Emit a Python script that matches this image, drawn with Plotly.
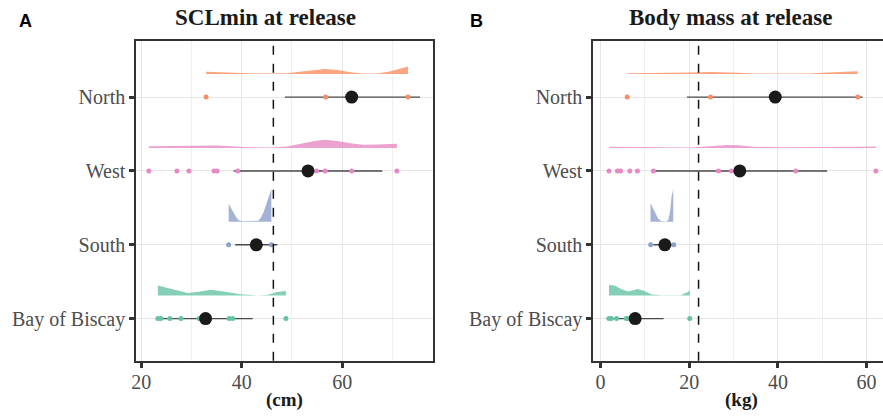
import plotly.graph_objects as go

# ---- data -------------------------------------------------------------
groups = ["Bay of Biscay", "South", "West", "North"]
colors = {"North": "#FC8D62", "West": "#E78AC3", "South": "#8DA0CB", "Bay of Biscay": "#66C2A5"}

# SCLmin at release (cm)
scl_points = {
    "North": [32.9, 56.7, 73.1],
    "West": [21.5, 27.1, 29.5, 34.5, 35.1, 39.2, 54.9, 56.6, 61.9, 70.9],
    "South": [37.4, 45.9],
    "Bay of Biscay": [23.3, 23.9, 25.7, 27.9, 31.5, 31.9, 37.5, 38.2, 48.8],
}
scl_centre = {"North": 61.9, "West": 53.2, "South": 42.9, "Bay of Biscay": 32.8}
scl_interval = {"North": (48.6, 75.5), "West": (38.4, 68.0), "South": (38.7, 47.1), "Bay of Biscay": (23.3, 42.2)}
scl_slab_x = {
    "North": [32.9, 36, 40, 44, 47, 49, 52, 54.5, 56.5, 59, 62, 64, 67, 69.5, 71.5, 73.1],
    "West": [21.5, 26, 30, 33, 35, 38, 41, 45.7, 49, 52, 54.5, 56.6, 59, 62, 64.2, 67, 70.9],
    "South": [37.4, 37.9, 38.4, 38.9, 39.4, 40.2, 42.5, 43.3, 43.8, 44.3, 44.8, 45.3, 45.6, 45.9],
    "Bay of Biscay": [23.3, 26.5, 29.2, 31.1, 33.8, 36.4, 39.7, 43.0, 45.0, 47.0, 48.8],
}
scl_slab_h = {
    "North": [2.3, 1.6, 1.0, 0.6, 0.5, 0.8, 2.5, 4.2, 5.0, 4.0, 1.5, 0.6, 0.6, 2.5, 5.0, 7.7],
    "West": [1.7, 1.9, 2.0, 2.3, 2.4, 1.6, 0.8, 0.5, 1.5, 4.5, 7.0, 8.3, 7.0, 4.5, 3.3, 3.5, 4.3],
    "South": [18, 14, 9, 4.5, 1.5, 0.4, 0.3, 1, 4, 9, 16, 25, 30, 33],
    "Bay of Biscay": [10.0, 6.3, 2.7, 3.7, 5.8, 4.0, 1.3, 0.2, 0.7, 3.7, 4.7],
}
scl_threshold = 46.3

# Body mass at release (kg)
mass_points = {
    "North": [6.0, 24.8, 58.0],
    "West": [1.9, 3.8, 4.5, 6.6, 8.3, 11.9, 26.6, 29.5, 44.0, 62.1],
    "South": [11.3, 16.5],
    "Bay of Biscay": [1.9, 2.4, 3.6, 5.8, 6.2, 20.1],
}
mass_centre = {"North": 39.4, "West": 31.4, "South": 14.5, "Bay of Biscay": 7.8}
mass_interval = {"North": (19.5, 59.1), "West": (11.9, 51.1), "South": (11.9, 17.0), "Bay of Biscay": (1.3, 14.2)}
mass_slab_x = {
    "North": [6, 12, 17, 20, 24.8, 28, 31, 34.5, 40, 47, 50, 53, 56, 58],
    "West": [1.9, 6, 10.7, 16, 20.4, 23, 26, 28.6, 31, 34.5, 40.5, 48, 54, 58, 62.1],
    "South": [11.26, 12.15, 13.0, 13.65, 14.8, 15.3, 15.7, 16.0, 16.4],
    "Bay of Biscay": [1.9, 3.2, 4.7, 6.2, 8.4, 9.9, 11.4, 13.6, 18.1, 19.6, 20.1],
}
mass_slab_h = {
    "North": [0.8, 0.9, 1.2, 1.7, 2.1, 1.9, 1.4, 0.6, 0.3, 0.5, 1.3, 2.0, 2.5, 2.8],
    "West": [1.3, 1.0, 0.7, 0.5, 0.5, 1.2, 2.4, 3.0, 2.6, 1.3, 0.6, 0.6, 0.9, 1.3, 1.4],
    "South": [18.7, 11, 3, 0.7, 0.3, 2, 11, 25, 33],
    "Bay of Biscay": [10.7, 10, 6.3, 4, 6.7, 4.7, 1.3, 0.3, 0.3, 3.3, 5.3],
}
mass_threshold = 22.1

x_ticks_scl = [20, 40, 60]
x_ticks_mass = [0, 20, 40, 60]

# ---- figure -----------------------------------------------------------
W, H = 883, 416
SERIF = "Liberation Serif"
row_px = 73.8            # pixels per category step
slab_offset = 23 / row_px
slab_scale = 1 / row_px


def rgba(hex_color, a):
    h = hex_color.lstrip("#")
    r, g, b = int(h[0:2], 16), int(h[2:4], 16), int(h[4:6], 16)
    return f"rgba({r},{g},{b},{a})"


fig = go.Figure()


def add_panel(xa, ya, points, centre, interval, slab_x, slab_h):
    for i, g in enumerate(groups):
        col = colors[g]
        base = i + slab_offset
        xs = slab_x[g]
        ys = [base + h * slab_scale for h in slab_h[g]]
        fig.add_trace(go.Scatter(
            x=xs + xs[::-1], y=ys + [base] * len(xs),
            fill="toself", fillcolor=rgba(col, 0.8), line=dict(width=0),
            mode="lines", xaxis=xa, yaxis=ya, hoverinfo="skip", showlegend=False))
        lo, hi = interval[g]
        fig.add_trace(go.Scatter(
            x=[lo, hi], y=[i, i], mode="lines",
            line=dict(color="#4a4a4a", width=1.4),
            xaxis=xa, yaxis=ya, showlegend=False))
        fig.add_trace(go.Scatter(
            x=points[g], y=[i] * len(points[g]), mode="markers",
            marker=dict(color=col, size=5, line=dict(width=0)),
            xaxis=xa, yaxis=ya, showlegend=False))
        fig.add_trace(go.Scatter(
            x=[centre[g]], y=[i], mode="markers",
            marker=dict(color="#1a1a1a", size=13, line=dict(width=0)),
            xaxis=xa, yaxis=ya, showlegend=False))


add_panel("x", "y", scl_points, scl_centre, scl_interval, scl_slab_x, scl_slab_h)
add_panel("x2", "y2", mass_points, mass_centre, mass_interval, mass_slab_x, mass_slab_h)

y_dom = [1 - 360.7 / H, 1 - 41 / H]
tick_font = dict(family=SERIF, size=20, color="#4d4d4d")
grid = "#e6e6e6"

common_x = dict(
    showgrid=True, gridcolor=grid, gridwidth=1, zeroline=False,
    ticks="outside", ticklen=5, tickwidth=2.5, tickcolor="#333333",
    tickfont=tick_font, showline=True, linecolor="#333333", linewidth=2,
    ticklabelstandoff=-3,
)
common_y = dict(
    showgrid=True, gridcolor=grid, gridwidth=1, zeroline=False,
    tickvals=list(range(len(groups))), ticktext=groups,
    ticks="outside", ticklen=5, tickwidth=2.5, tickcolor="#333333",
    tickfont=tick_font, showline=True, linecolor="#333333", linewidth=2,
    range=[-0.57, 3.76],
)

fig.update_layout(
    width=W, height=H, margin=dict(l=0, r=0, t=0, b=0),
    paper_bgcolor="white", plot_bgcolor="white", showlegend=False,
    xaxis=dict(common_x, domain=[132 / W, 430 / W], range=[19.0, 78.0],
               tickvals=x_ticks_scl, mirror=True, anchor="y",
               minor=dict(tickvals=[30, 50, 70], showgrid=True, gridcolor="#f0f0f0", ticks="")),
    yaxis=dict(common_y, domain=y_dom, mirror=True, anchor="x"),
    xaxis2=dict(common_x, domain=[591.7 / W, 1.0], range=[-1.63, 63.7],
                tickvals=x_ticks_mass, mirror=True, anchor="y2",
                minor=dict(tickvals=[10, 30, 50], showgrid=True, gridcolor="#f0f0f0", ticks="")),
    yaxis2=dict(common_y, domain=y_dom, mirror=False, anchor="x2"),
)

# threshold lines
for xa, ya, xv in (("x", "y", scl_threshold), ("x2", "y2", mass_threshold)):
    fig.add_shape(type="line", xref=xa, yref=f"{ya} domain", x0=xv, x1=xv, y0=0, y1=1,
                  line=dict(color="#111111", width=1.5, dash="dash"))

# titles, axis titles and panel letters
ann = [
    dict(text="<b>SCLmin at release</b>", x=262, y=18, size=23, family=SERIF, color="#1a1a1a"),
    dict(text="<b>Body mass at release</b>", x=730, y=18, size=23, family=SERIF, color="#1a1a1a"),
    dict(text="<b>(cm)</b>", x=281, y=400, size=19, family=SERIF, color="#1a1a1a"),
    dict(text="<b>(kg)</b>", x=741, y=400, size=19, family=SERIF, color="#1a1a1a"),
    dict(text="<b>A</b>", x=21, y=21, size=18, family="Liberation Sans", color="#000000"),
    dict(text="<b>B</b>", x=474, y=21, size=18, family="Liberation Sans", color="#000000"),
]
for a in ann:
    fig.add_annotation(text=a["text"], xref="paper", yref="paper",
                       x=a["x"] / W, y=1 - a["y"] / H, xanchor="center", yanchor="middle",
                       showarrow=False, font=dict(family=a["family"], size=a["size"], color=a["color"]))

fig.write_html("out.html")
